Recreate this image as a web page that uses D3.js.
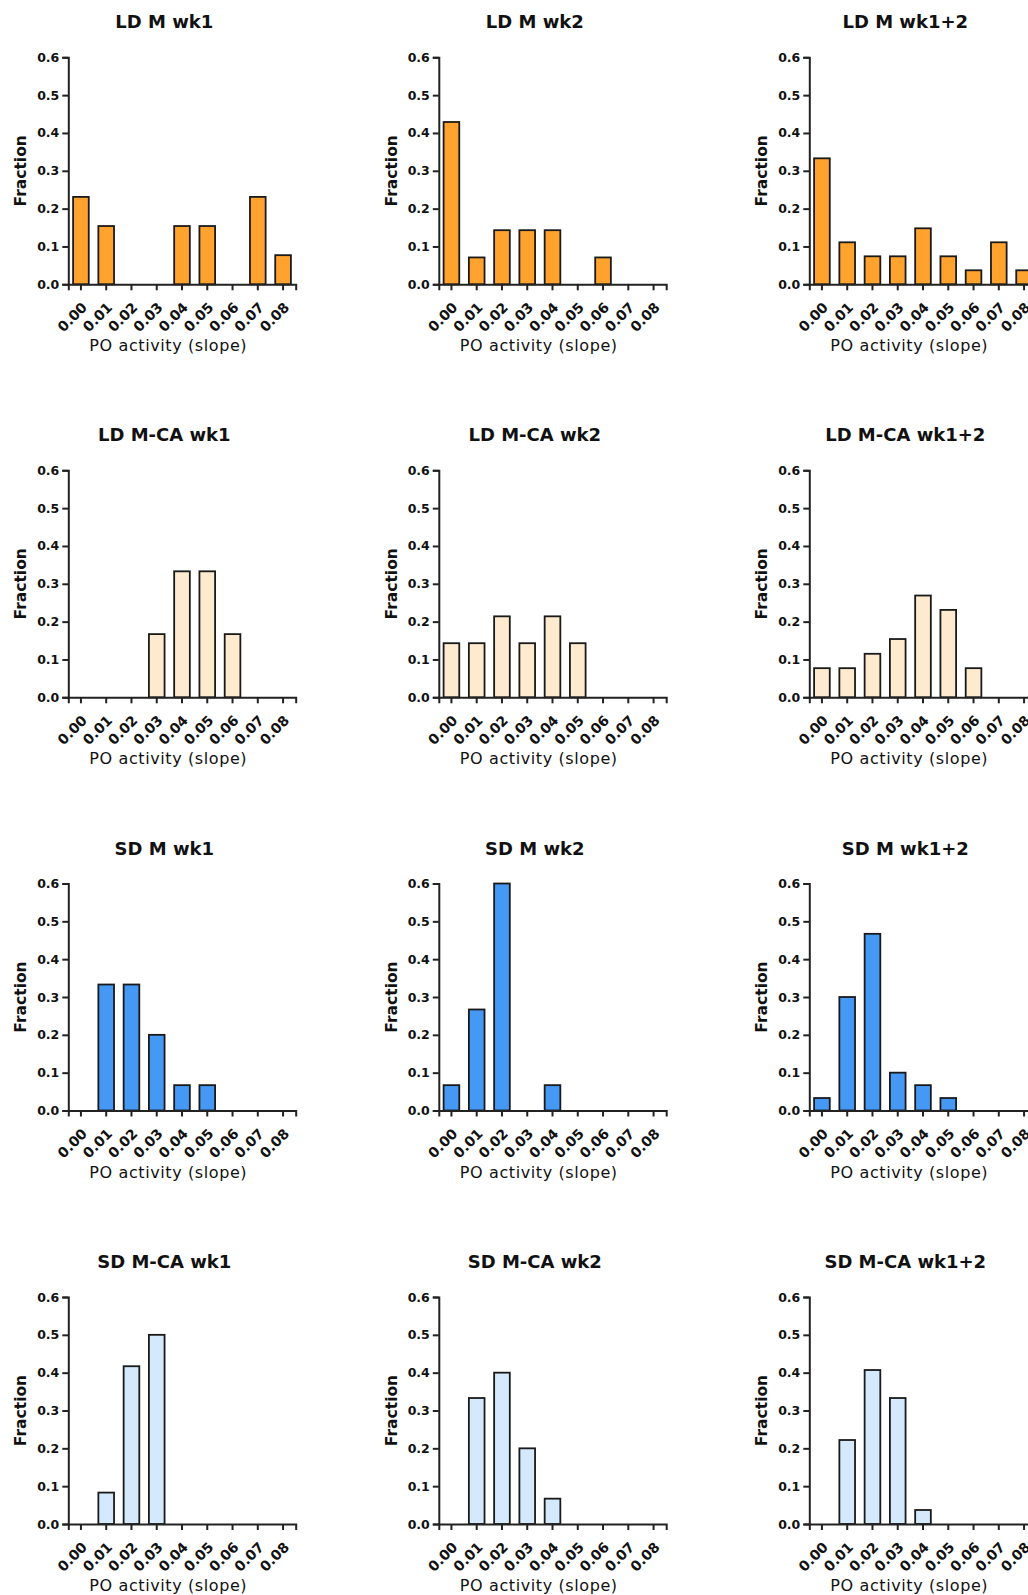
<!DOCTYPE html>
<html lang="en">
<head>
  <meta charset="utf-8">
  <title>PO activity histograms</title>
  <script src="https://cdnjs.cloudflare.com/ajax/libs/d3/7.8.5/d3.min.js"></script>
  <style>
    body { margin: 0; background: #fff; }
    svg { display: block; }
    .bold { font-family: "DejaVu Sans", sans-serif; font-weight: bold; fill: #111; }
  </style>
</head>
<body>
<div id="ChartArea"></div>
<script>
// histogram bins (PO activity slope)
const slopeBins = ["0.00", "0.01", "0.02", "0.03", "0.04", "0.05", "0.06", "0.07", "0.08"];
const fractionTicks = [0, 0.1, 0.2, 0.3, 0.4, 0.5, 0.6];

// fractions per bin
const ldM_wk1    = [0.231, 0.154, 0, 0, 0.154, 0.154, 0, 0.231, 0.077];
const ldM_wk2    = [0.429, 0.071, 0.143, 0.143, 0.143, 0, 0.071, 0, 0];
const ldM_wk12   = [0.333, 0.111, 0.074, 0.074, 0.148, 0.074, 0.037, 0.111, 0.037];
const ldMCA_wk1  = [0, 0, 0, 0.167, 0.333, 0.333, 0.167, 0, 0];
const ldMCA_wk2  = [0.143, 0.143, 0.214, 0.143, 0.214, 0.143, 0, 0, 0];
const ldMCA_wk12 = [0.077, 0.077, 0.115, 0.154, 0.269, 0.231, 0.077, 0, 0];
const sdM_wk1    = [0, 0.333, 0.333, 0.2, 0.067, 0.067, 0, 0, 0];
const sdM_wk2    = [0.067, 0.267, 0.6, 0, 0.067, 0, 0, 0, 0];
const sdM_wk12   = [0.033, 0.3, 0.467, 0.1, 0.067, 0.033, 0, 0, 0];
const sdMCA_wk1  = [0, 0.083, 0.417, 0.5, 0, 0, 0, 0, 0];
const sdMCA_wk2  = [0, 0.333, 0.4, 0.2, 0.067, 0, 0, 0, 0];
const sdMCA_wk12 = [0, 0.222, 0.407, 0.333, 0.037, 0, 0, 0, 0];

const panelTitles = [
  ["LD M wk1", "LD M wk2", "LD M wk1+2"],
  ["LD M-CA wk1", "LD M-CA wk2", "LD M-CA wk1+2"],
  ["SD M wk1", "SD M wk2", "SD M wk1+2"],
  ["SD M-CA wk1", "SD M-CA wk2", "SD M-CA wk1+2"]
];
const panelData = [
  [ldM_wk1, ldM_wk2, ldM_wk12],
  [ldMCA_wk1, ldMCA_wk2, ldMCA_wk12],
  [sdM_wk1, sdM_wk2, sdM_wk12],
  [sdMCA_wk1, sdMCA_wk2, sdMCA_wk12]
];
const rowColors = ["#ffa32e", "#fdeacf", "#4598f4", "#d4e9fb"];

const W = 1028, H = 1595;
const plotW = 227.4, plotH = 227;
const colX = [68.3, 438.8, 809.3];   // y-axis position of each column
const rowY = [57.3, 470.3, 883.5, 1297]; // top of plot area of each row

const svg = d3.select("#ChartArea").append("svg")
  .attr("width", W)
  .attr("height", H);

const x = d3.scaleBand()
  .domain(slopeBins)
  .range([0, plotW])
  .paddingInner(0.38)
  .paddingOuter(0.19);

const y = d3.scaleLinear()
  .domain([0, 0.6])
  .range([plotH, 0]);

panelData.forEach(function(row, r) {
  row.forEach(function(values, c) {
    const g = svg.append("g")
      .attr("transform", "translate(" + colX[c] + "," + rowY[r] + ")");

    // bars (zero bins are not drawn)
    g.selectAll(".bar")
      .data(values.map(function(v, i) { return {bin: slopeBins[i], v: v}; })
                  .filter(function(d) { return d.v > 0; }))
      .enter().append("rect")
      .attr("class", "bar")
      .attr("x", function(d) { return x(d.bin); })
      .attr("y", function(d) { return y(d.v); })
      .attr("width", x.bandwidth())
      .attr("height", function(d) { return plotH - y(d.v); })
      .attr("fill", rowColors[r])
      .attr("stroke", "#1a1a1a")
      .attr("stroke-width", 1.8);

    // x axis
    const xa = g.append("g")
      .attr("transform", "translate(0," + plotH + ")")
      .call(d3.axisBottom(x).tickSizeOuter(0).tickSize(6));
    xa.selectAll("text")
      .attr("class", "bold")
      .attr("font-size", 14)
      .attr("x", 0).attr("y", 0).attr("dy", 0)
      .attr("text-anchor", "end")
      .attr("transform", "translate(7,24) rotate(-45)");

    // y axis
    const ya = g.append("g")
      .call(d3.axisLeft(y).tickValues(fractionTicks).tickFormat(d3.format(".1f")).tickSizeOuter(0).tickSize(6));
    ya.selectAll("text")
      .attr("class", "bold")
      .attr("font-size", 12.5);

    g.selectAll(".domain, .tick line")
      .attr("stroke", "#222")
      .attr("stroke-width", 2);

    // titles
    g.append("text")
      .attr("class", "bold")
      .attr("x", 96).attr("y", -29)
      .attr("text-anchor", "middle")
      .attr("font-size", 18)
      .text(panelTitles[r][c]);

    g.append("text")
      .attr("class", "bold")
      .attr("font-size", 15.5)
      .attr("text-anchor", "middle")
      .attr("transform", "translate(-42," + (plotH / 2) + ") rotate(-90)")
      .text("Fraction");

    g.append("text")
      .attr("x", 100).attr("y", plotH + 67)
      .attr("text-anchor", "middle")
      .attr("font-family", "DejaVu Sans, sans-serif")
      .attr("font-size", 16)
      .attr("letter-spacing", 0.6)
      .attr("fill", "#111")
      .text("PO activity (slope)");
  });
});
</script>
</body>
</html>
